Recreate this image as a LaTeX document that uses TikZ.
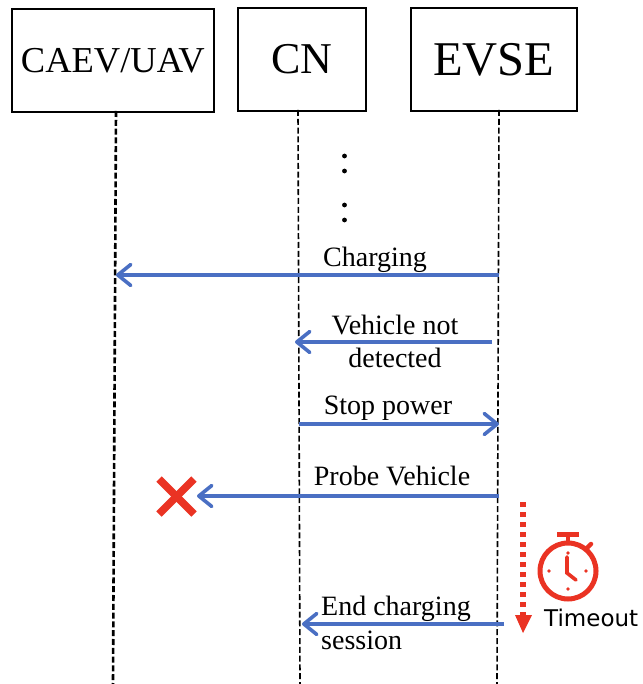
\documentclass[tikz,border=0pt]{standalone}
\usepackage{fontspec}
\setmainfont{Liberation Serif}
\newfontfamily\sansf{DejaVu Sans}
\usetikzlibrary{arrows.meta}
\definecolor{msgblue}{HTML}{4A6FC3}
\definecolor{alertred}{HTML}{EA3323}
\tikzset{
  x=1pt,y=-1pt,
  actor/.style={draw=black,line width=1.8pt,minimum height=103pt,inner sep=0pt,anchor=north west,fill=white},
  life/.style={draw=black,dash pattern=on 6pt off 2.8pt},
  msg/.style={draw=msgblue,line width=4pt,-{Straight Barb[length=13pt,width=21pt,line width=3.6pt,round]}},
  lbl/.style={inner sep=0pt,font=\fontsize{28}{29}\selectfont,align=center},
  redline/.style={draw=alertred,line width=2.6pt},
}
\begin{document}
\begin{tikzpicture}
\useasboundingbox (0,0) rectangle (642,684);
\node[actor,minimum width=202pt,font=\fontsize{36.5}{38}\selectfont] (caev) at (11,8) {\raisebox{-2pt}{CAEV/UAV}};
\node[actor,minimum width=128pt,font=\fontsize{44}{46}\selectfont] (cn) at (237,7) {\raisebox{-2pt}{CN}};
\node[actor,minimum width=166pt,font=\fontsize{48.5}{50}\selectfont] (evse) at (410,7) {\raisebox{-2pt}{EVSE}};
\coordinate (caevTop) at (116,111);
\coordinate (caevEnd) at (113,684);
\coordinate (cnTop) at (298,110);
\coordinate (cnEnd) at (300,684);
\coordinate (evseTop) at (499,110);
\coordinate (evseEnd) at (497,684);
\draw[life,line width=2.6pt] (caevTop) -- (caevEnd);
\draw[life,line width=1.6pt] (cnTop) -- (cnEnd);
\draw[life,line width=1.6pt] (evseTop) -- (evseEnd);
\foreach \n/\y in {d1/156,d2/171,d3/205,d4/220}{\fill (344.5,\y) circle (2.4pt);}
% messages
\coordinate (a1) at (499,275); \coordinate (b1) at (116,275);
\draw[msg] (a1) -- (b1);
\node[lbl] (t1) at (375,260) {Charging};
\coordinate (a2) at (492,342); \coordinate (b2) at (295,342);
\draw[msg] (a2) -- (b2);
\node[lbl] (t2) at (395,341) {Vehicle not\\[4pt]detected};
\coordinate (a3) at (299,424); \coordinate (b3) at (499,424);
\draw[msg] (a3) -- (b3);
\node[lbl] (t3) at (388,408) {Stop power};
\coordinate (a4) at (499,496); \coordinate (b4) at (197,496);
\draw[msg] (a4) -- (b4);
\node[lbl] (t4) at (392,476) {Probe Vehicle};
\coordinate (a5) at (504,624); \coordinate (b5) at (302,624);
\draw[msg] (a5) -- (b5);
\node[lbl,align=left,anchor=west] (t5) at (321,623) {End charging\\[5pt]session};
% cross
\draw[redline,line width=7.5pt] (159,479) -- (194,514);
\draw[redline,line width=7.5pt] (194,479) -- (159,514);
% timeout arrow
\coordinate (ta) at (523,502); \coordinate (tb) at (523,633);
\draw[alertred,line width=5.5pt,dash pattern=on 5pt off 5pt] (ta) -- (523,616);
\fill[alertred] (515,615) -- (532,615) -- (523,633) -- cycle;
% stopwatch
\begin{scope}[alertred]
\draw[line width=5pt] (568,571) circle (28pt);
\draw[line width=5pt] (557,534) -- (579,534);
\draw[line width=4.5pt] (568,534) -- (568,543);
\draw[line width=4.5pt,line cap=round] (586,549) -- (591,544);
\draw[line width=3.6pt,line cap=round] (567,557) -- (567,573) -- (576,580);
\foreach \p in {(568,553),(568,589),(549,571),(586,571)}{\fill \p circle (1.9pt);}
\end{scope}
\node[inner sep=0pt,anchor=west,font=\sansf\fontsize{23}{24}\selectfont] (tm) at (544,618) {Timeout};
\end{tikzpicture}
\end{document}
